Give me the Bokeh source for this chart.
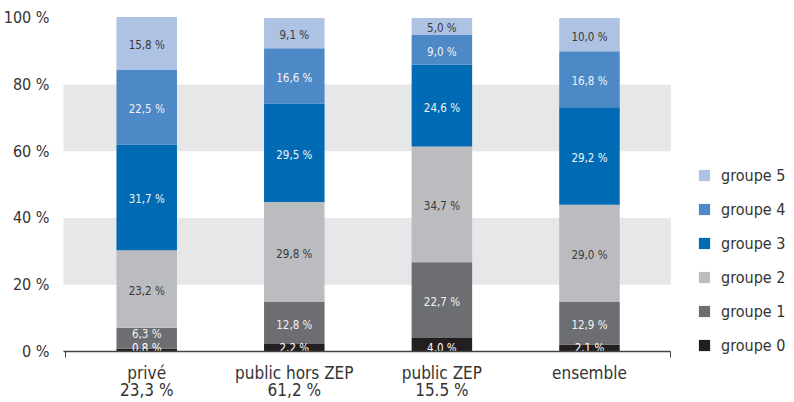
from bokeh.plotting import figure
from bokeh.models import (ColumnDataSource, Range1d, FixedTicker, Legend, LegendItem,
                          BoxAnnotation)
from bokeh.core.properties import value
from bokeh.embed import file_html
from bokeh.resources import INLINE

categories = ["privé", "public hors ZEP", "public ZEP", "ensemble"]
shares = ["23,3 %", "61,2 %", "15.5 %", ""]
groups = ["groupe 0", "groupe 1", "groupe 2", "groupe 3", "groupe 4", "groupe 5"]
g0 = [0.8, 2.2, 4.0, 2.1]
g1 = [6.3, 12.8, 22.7, 12.9]
g2 = [23.2, 29.8, 34.7, 29.0]
g3 = [31.7, 29.5, 24.6, 29.2]
g4 = [22.5, 16.6, 9.0, 16.8]
g5 = [15.8, 9.1, 5.0, 10.0]
y_ticks = [0, 20, 40, 60, 80, 100]
bands = [(20, 40), (60, 80)]

series = [g0, g1, g2, g3, g4, g5]
colors = ["#231F20", "#6D6E71", "#BBBCC0", "#006AB4", "#4D88C7", "#AEC2E3"]
label_colors = ["#FFFFFF", "#F2F2F2", "#3A3A3A", "#F2F2F2", "#F2F2F2", "#3A3A3A"]
FONT = "'DejaVu Sans Condensed', Roboto, sans-serif"
TXT = "#333333"

X0, X1 = -0.564, 3.551          # extent of the chart zone (axis line, bands)

xs = list(range(len(categories)))
data = {"x": xs}
for g, s in zip(groups, series):
    data[g] = s
src = ColumnDataSource(data)

p = figure(width=786, height=400, output_backend="svg", toolbar_location=None,
           x_range=Range1d(-0.6045, 4.335), y_range=Range1d(-14.72, 105.21),
           min_border_left=0, min_border_right=0, min_border_top=0,
           min_border_bottom=0)
p.outline_line_color = None
p.grid.visible = False
p.background_fill_color = "white"

for lo, hi in bands:
    p.add_layout(BoxAnnotation(bottom=lo, top=hi, left=X0, right=X1,
                               fill_color="#E6E7E8", fill_alpha=1,
                               line_color=None, level="underlay"))

renderers = p.vbar_stack(groups, x="x", width=0.41, source=src, color=colors,
                         line_color=None)

# segment labels
bottoms = [0.0] * len(xs)
for gi, s in enumerate(series):
    lx, ly, lt, off = [], [], [], []
    for i, v in enumerate(s):
        mid = bottoms[i] + v / 2
        if gi == 0:
            y, o = 0.0, -3
        elif gi == 1:
            y, o = max(mid, bottoms[i] + 5), 2
        else:
            y, o = mid, 2
        lx.append(xs[i]); ly.append(y); off.append(o)
        lt.append(("%.1f %%" % v).replace(".", ","))
        bottoms[i] += v
    p.text(x=lx, y=ly, text=lt, y_offset=off, text_align="center",
           text_baseline="middle", text_font=value(FONT), text_font_size="11.5px",
           text_color=label_colors[gi])

# x axis, drawn at y = 0
xa = p.xaxis[0]
xa.fixed_location = 0
xa.bounds = (X0, X1)
xa.ticker = FixedTicker(ticks=xs, minor_ticks=[X0 + 0.014, X1])
xa.major_label_overrides = {i: (c + ("\n" + s if s else "")) for i, (c, s) in
                            enumerate(zip(categories, shares))}
xa.major_tick_line_color = None
xa.major_tick_out = 0
xa.major_tick_in = 0
xa.minor_tick_out = 6
xa.minor_tick_in = 0
xa.minor_tick_line_color = "#444444"
xa.axis_line_color = "#444444"
xa.axis_line_width = 1.5
xa.major_label_text_font = FONT
xa.major_label_text_font_size = "17px"
xa.major_label_text_color = TXT
xa.major_label_text_line_height = 0.82
xa.major_label_standoff = 6

ya = p.yaxis[0]
ya.ticker = FixedTicker(ticks=y_ticks)
ya.major_label_overrides = {t: "%d %%" % t for t in y_ticks}
ya.axis_line_color = None
ya.major_tick_line_color = None
ya.minor_tick_line_color = None
ya.major_tick_out = 0
ya.minor_tick_out = 0
ya.major_label_text_font = FONT
ya.major_label_text_font_size = "16px"
ya.major_label_text_color = TXT
ya.major_label_standoff = 8

items = [LegendItem(label=g, renderers=[r]) for g, r in zip(groups, renderers)][::-1]
legend = Legend(items=items, location=(640, 45), glyph_width=14, glyph_height=14,
                label_height=20, spacing=14, label_standoff=10, padding=0, margin=0,
                border_line_color=None, background_fill_alpha=0,
                label_text_font=FONT, label_text_font_size="16px",
                label_text_color=TXT)
p.add_layout(legend)

open("out.html", "w").write(file_html(p, INLINE))
